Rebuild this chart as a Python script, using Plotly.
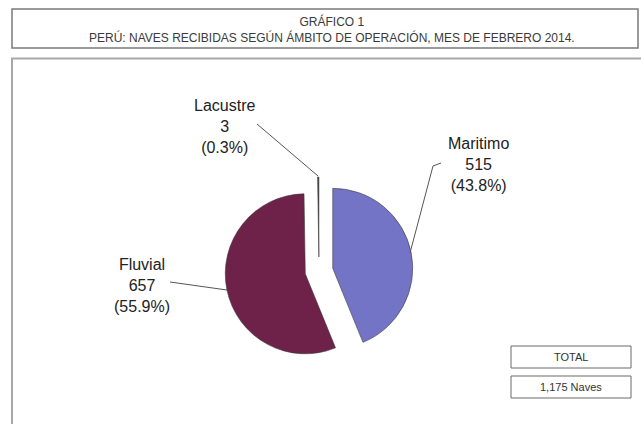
import plotly.graph_objects as go

categories = ["Maritimo", "Fluvial", "Lacustre"]
values = [515, 657, 3]
colors = ["#7474c6", "#6e2149", "#3a3a3a"]
pulls = [0.175, 0.175, 0.175]
title_lines = ["GRÁFICO 1", "PERÚ: NAVES RECIBIDAS SEGÚN ÁMBITO DE OPERACIÓN, MES DE FEBRERO 2014."]
total_label = "TOTAL"
total_unit = "Naves"

W, H = 641, 424


def px(x):
    return x / W


def py(y):
    return 1 - y / H


total = sum(values)

fig = go.Figure()
fig.add_trace(go.Pie(
    labels=categories,
    values=values,
    sort=False,
    direction="clockwise",
    rotation=0,
    pull=pulls,
    marker=dict(colors=colors, line=dict(width=0.6, color="#3c3c3c")),
    textinfo="none",
    hoverinfo="label+value+percent",
    showlegend=False,
    domain=dict(x=[px(225), px(413)], y=[py(365), py(177)]),
))

shapes = []
# Title box
shapes.append(dict(type="rect", xref="paper", yref="paper",
                   x0=px(12), x1=px(638), y0=py(48), y1=py(9),
                   line=dict(color="#7a7a7a", width=1.5), fillcolor="rgba(0,0,0,0)"))
# Chart frame
shapes.append(dict(type="rect", xref="paper", yref="paper",
                   x0=px(12), x1=px(660), y0=py(440), y1=py(58.5),
                   line=dict(color="#a8a8a8", width=2), fillcolor="rgba(0,0,0,0)"))
# Total boxes
shapes.append(dict(type="rect", xref="paper", yref="paper",
                   x0=px(511), x1=px(631), y0=py(368), y1=py(346),
                   line=dict(color="#6a6a6a", width=1), fillcolor="white"))
shapes.append(dict(type="rect", xref="paper", yref="paper",
                   x0=px(511), x1=px(631), y0=py(398), y1=py(376),
                   line=dict(color="#6a6a6a", width=1), fillcolor="white"))

# Leader lines
leaders = {
    "Lacustre": [(257, 124), (318, 176)],
    "Maritimo": [(441, 163), (433, 166), (410, 253)],
    "Fluvial": [(170, 282), (227, 290)],
}
for name, pts in leaders.items():
    for (x0, y0), (x1, y1) in zip(pts[:-1], pts[1:]):
        shapes.append(dict(type="line", xref="paper", yref="paper",
                           x0=px(x0), y0=py(y0), x1=px(x1), y1=py(y1),
                           line=dict(color="#555555", width=1)))

annotations = []
annotations.append(dict(text="<br>".join(title_lines), x=px(332), y=py(29),
                        xref="paper", yref="paper", showarrow=False,
                        font=dict(family="Liberation Sans, Arial", size=12, color="#3a3a3a"),
                        xanchor="center", yanchor="middle"))

label_pos = {"Lacustre": (225, 126), "Maritimo": (478, 165), "Fluvial": (142, 285)}
for name, v in zip(categories, values):
    pct = v / total * 100
    x, y = label_pos[name]
    annotations.append(dict(text=f"{name}<br>{v:,}<br>({pct:.1f}%)",
                            x=px(x), y=py(y), xref="paper", yref="paper",
                            showarrow=False, align="center",
                            font=dict(family="Liberation Sans, Arial", size=16, color="#222222"),
                            xanchor="center", yanchor="middle"))

annotations.append(dict(text=total_label, x=px(571), y=py(357), xref="paper", yref="paper",
                        showarrow=False, font=dict(family="Liberation Sans, Arial", size=11, color="#333333"),
                        xanchor="center", yanchor="middle"))
annotations.append(dict(text=f"{total:,} {total_unit}", x=px(571), y=py(387), xref="paper", yref="paper",
                        showarrow=False, font=dict(family="Liberation Sans, Arial", size=11, color="#333333"),
                        xanchor="center", yanchor="middle"))

fig.update_layout(
    width=W, height=H,
    margin=dict(l=0, r=0, t=0, b=0),
    paper_bgcolor="white",
    plot_bgcolor="white",
    shapes=shapes,
    annotations=annotations,
)

fig.write_html("out.html", config={"displayModeBar": False},
               post_script="document.body.style.margin='0';document.body.style.overflow='hidden';")
